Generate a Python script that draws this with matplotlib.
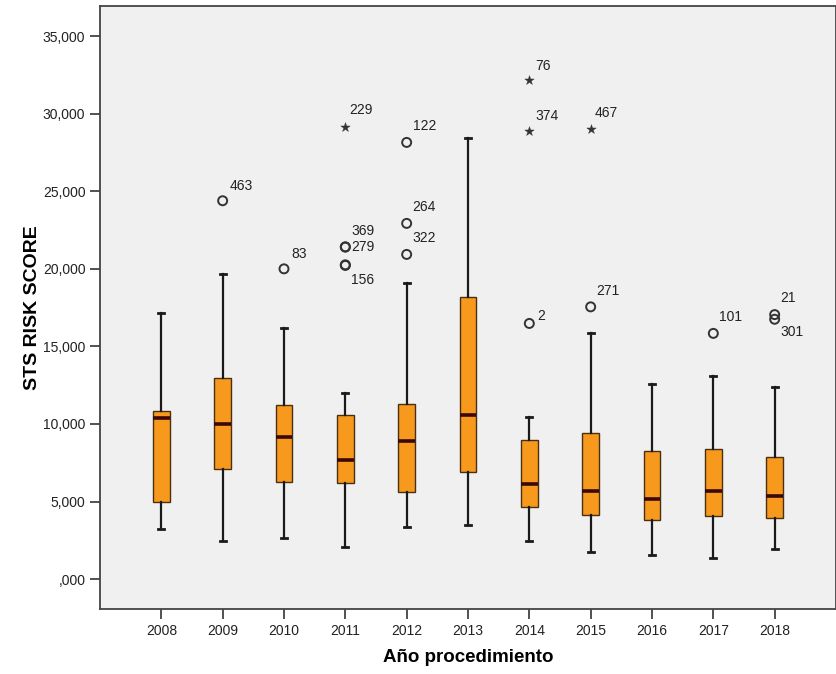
import matplotlib
matplotlib.use("Agg")
import matplotlib.pyplot as plt
from matplotlib.ticker import FuncFormatter

# datos (STS risk score, %)
years = ['2008', '2009', '2010', '2011', '2012', '2013', '2014', '2015', '2016', '2017', '2018']
whislo = [3.22, 2.47, 2.62, 2.08, 3.37, 3.46, 2.43, 1.76, 1.53, 1.35, 1.95]
q1 = [4.94, 7.09, 6.27, 6.21, 5.59, 6.92, 4.66, 4.10, 3.80, 4.04, 3.93]
med = [10.36, 9.99, 9.17, 7.67, 8.92, 10.59, 6.12, 5.69, 5.14, 5.69, 5.35]
q3 = [10.85, 12.98, 11.20, 10.57, 11.28, 18.20, 8.96, 9.41, 8.25, 8.40, 7.88]
whishi = [17.17, 19.66, 16.16, 12.01, 19.08, 28.41, 10.42, 15.88, 12.57, 13.11, 12.36]

# valores atipicos (o) y extremos (*)
out_year = ['2009', '2010', '2011', '2011', '2011', '2011', '2012', '2012', '2012', '2014', '2015', '2017', '2018', '2018']
out_value = [24.39, 20.00, 21.42, 21.40, 20.26, 20.22, 28.15, 22.93, 20.93, 16.48, 17.55, 15.84, 17.05, 16.75]
out_id = ['463', '83', '369', '279', '156', '', '122', '264', '322', '2', '271', '101', '21', '301']

ext_year = ['2011', '2014', '2014', '2015']
ext_value = [29.16, 32.15, 28.90, 29.00]
ext_id = ['229', '76', '374', '467']

# desplazamiento de las etiquetas (pixeles)
out_offset = {'463': (7, 15), '83': (7, 15), '369': (6, 16), '279': (6, 0), '156': (6, -15),
              '122': (6, 16), '264': (6, 16), '322': (6, 16), '2': (8, 7), '271': (6, 16),
              '101': (6, 16), '21': (6, 17), '301': (6, -13)}
ext_offset = {'229': (4, 17), '76': (6, 14), '374': (6, 15), '467': (4, 16)}

plt.rcParams['font.family'] = ['Liberation Sans', 'DejaVu Sans']

fig = plt.figure(figsize=(8.36, 6.74), dpi=100)
ax = fig.add_axes([0.1196, 0.0964, 0.8804, 0.8946])
ax.set_facecolor('#f0f0f0')

pos = list(range(1, len(years) + 1))
stats = []
for i, y in enumerate(years):
    stats.append({'label': y, 'whislo': whislo[i], 'q1': q1[i], 'med': med[i],
                  'q3': q3[i], 'whishi': whishi[i], 'fliers': []})

ax.bxp(stats, positions=pos, widths=0.27, patch_artist=True, showfliers=False,
       boxprops=dict(facecolor='#f7991c', edgecolor='#4a3010', linewidth=1.0),
       medianprops=dict(color='#3a0808', linewidth=2.6),
       whiskerprops=dict(color='#1a1a1a', linewidth=1.6),
       capprops=dict(color='#1a1a1a', linewidth=2.0),
       capwidths=0.1)

xpos = {y: p for y, p in zip(years, pos)}

ax.scatter([xpos[y] for y in out_year], out_value, s=42, facecolors='none',
           edgecolors='#333333', linewidths=1.4, zorder=3)
ax.scatter([xpos[y] for y in ext_year], ext_value, s=50, marker='*',
           color='#333333', linewidths=0.3, zorder=3)

for y, v, lab in zip(out_year, out_value, out_id):
    if lab:
        ax.annotate(lab, (xpos[y], v), xytext=out_offset[lab], textcoords='offset pixels',
                    ha='left', va='center', fontsize=10, color='#222222')
for y, v, lab in zip(ext_year, ext_value, ext_id):
    ax.annotate(lab, (xpos[y], v), xytext=ext_offset[lab], textcoords='offset pixels',
                ha='left', va='center', fontsize=10, color='#222222')

ax.set_xlim(0, 12)
ax.set_ylim(-1.93, 36.94)
ax.set_xticks(pos)
ax.set_xticklabels(years, fontsize=10)
ax.set_yticks([0, 5, 10, 15, 20, 25, 30, 35])
ax.yaxis.set_major_formatter(FuncFormatter(
    lambda v, p: ',000' if v == 0 else '{:,.3f}'.format(v).replace('.', ',')))
ax.tick_params(axis='y', labelsize=10, length=7, width=1.2, color='#333333', labelcolor='#222222')
ax.tick_params(axis='x', length=7, width=1.2, color='#333333', labelcolor='#222222')

for s in ax.spines.values():
    s.set_color('#444444')
    s.set_linewidth(1.3)

ax.set_ylabel('STS RISK SCORE', fontsize=14, fontweight='bold', labelpad=1)
ax.set_xlabel('Año procedimiento', fontsize=13.5, fontweight='bold', labelpad=8)

fig.savefig('out.png', dpi=100)
